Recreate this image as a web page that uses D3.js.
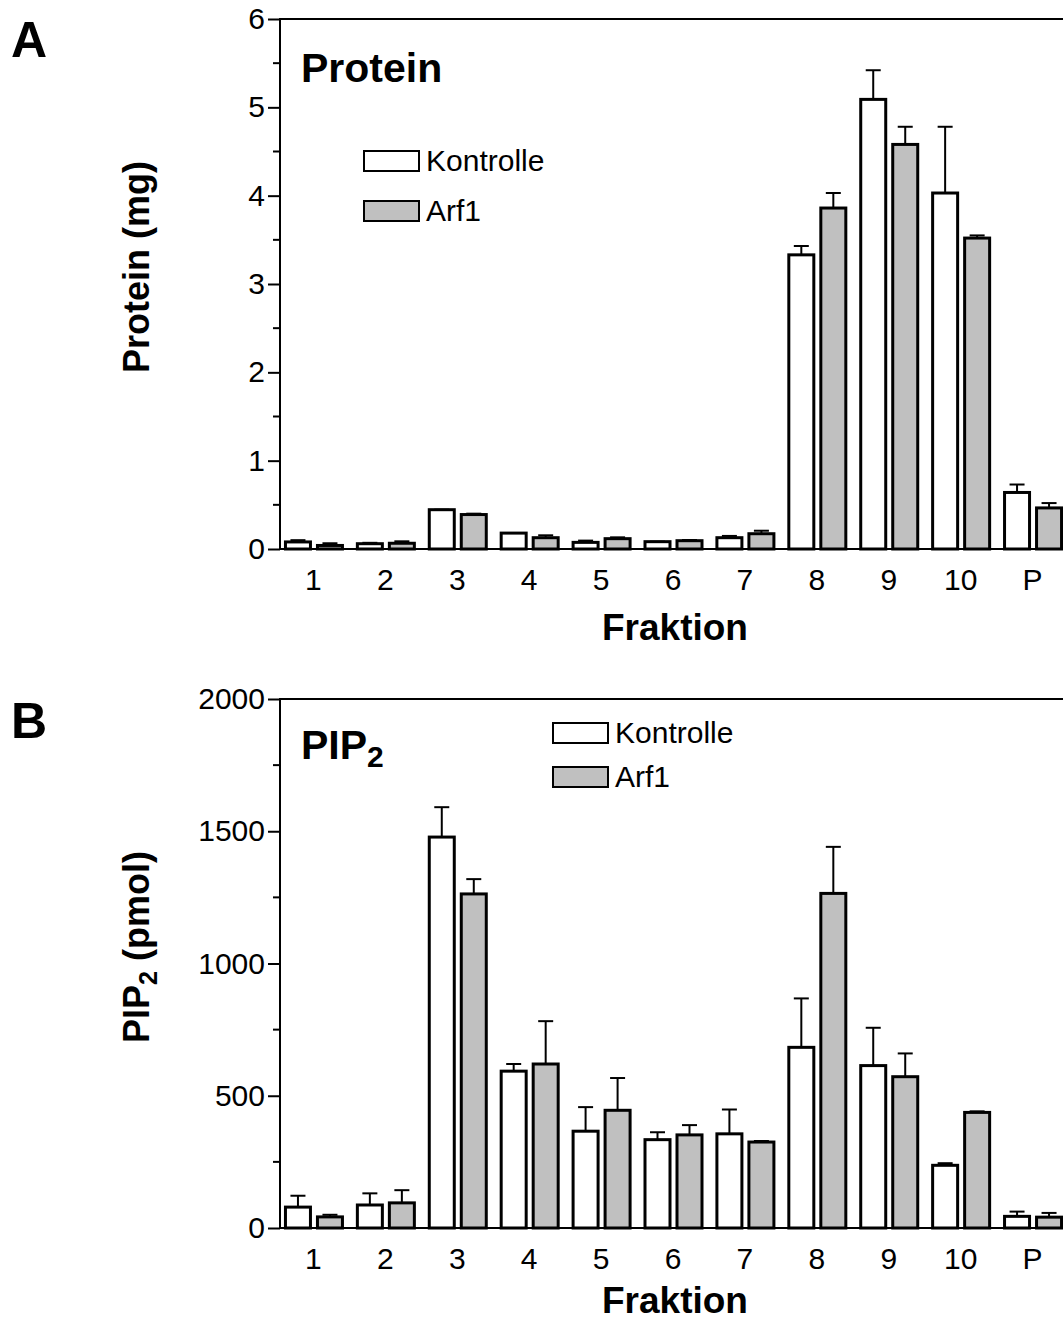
<!DOCTYPE html>
<html>
<head>
<meta charset="utf-8">
<script src="https://cdn.jsdelivr.net/npm/d3@7"></script>
<style>
body { margin: 0; background: #fff; }
svg { display: block; font-family: "Liberation Sans", Arial, sans-serif; }
</style>
</head>
<body>
<svg id="chart" width="1063" height="1322"></svg>
<script>
// fractions on x axis
var fractions = ["1", "2", "3", "4", "5", "6", "7", "8", "9", "10", "P"];
var seriesNames = ["Kontrolle", "Arf1"];

// panel A: protein (mg)
var proteinKontrolle = [0.08, 0.06, 0.445, 0.18, 0.075, 0.083, 0.128, 3.33, 5.09, 4.03, 0.64];
var proteinKontrolleErr = [0.02, 0.01, 0.0, 0.0, 0.02, 0.0, 0.02, 0.1, 0.33, 0.75, 0.09];
var proteinArf1 = [0.04, 0.065, 0.39, 0.128, 0.117, 0.094, 0.173, 3.86, 4.58, 3.52, 0.465];
var proteinArf1Err = [0.025, 0.022, 0.01, 0.027, 0.015, 0.008, 0.034, 0.17, 0.2, 0.03, 0.055];

// panel B: PIP2 (pmol)
var pipKontrolle = [79, 87, 1478, 593, 366, 334, 356, 683, 614, 237, 44];
var pipKontrolleErr = [43, 44, 113, 27, 91, 28, 92, 185, 143, 8, 18];
var pipArf1 = [42, 95, 1263, 620, 445, 352, 325, 1265, 572, 437, 41];
var pipArf1Err = [8, 48, 56, 162, 122, 37, 4, 176, 88, 4, 16];

var proteinTicks = [0, 1, 2, 3, 4, 5, 6];
var proteinMinor = [0.5, 1.5, 2.5, 3.5, 4.5, 5.5];
var pipTicks = [0, 500, 1000, 1500, 2000];
var pipMinor = [250, 750, 1250, 1750];

var colors = { "Kontrolle": "#ffffff", "Arf1": "#c0c0c0" };

var svg = d3.select("#chart");

var x = d3.scaleBand().domain(fractions).range([277.5, 1068.5]).paddingInner(0).paddingOuter(0);
var x1 = d3.scaleBand().domain(seriesNames).range([-29.5, 30.5]).paddingInner(0.125);

drawPanel({
    top: 19, bottom: 549, max: 6,
    ticks: proteinTicks, minor: proteinMinor,
    values: [proteinKontrolle, proteinArf1], errs: [proteinKontrolleErr, proteinArf1Err],
    letter: "A", letterY: 57,
    title: "Protein", titleY: 82,
    ylabel: "Protein (mg)", ylabelY: 267,
    legendX: 363, legendY: [150, 200],
    xlabelY: 640
});

drawPanel({
    top: 699, bottom: 1228, max: 2000,
    ticks: pipTicks, minor: pipMinor,
    values: [pipKontrolle, pipArf1], errs: [pipKontrolleErr, pipArf1Err],
    letter: "B", letterY: 738,
    title: "PIP", titleY: 759,
    ylabel: "PIP", ylabelY: 947,
    legendX: 552, legendY: [722, 766],
    xlabelY: 1313
});

function drawPanel(p) {
    var y = d3.scaleLinear().domain([0, p.max]).range([p.bottom, p.top]);
    var g = svg.append("g");

    // bars + error bars
    p.values.forEach(function(vals, si) {
        var name = seriesNames[si];
        var errs = p.errs[si];
        var cx = function(i) { return x(fractions[i]) + x.bandwidth() / 2 + x1(name) + x1.bandwidth() / 2; };
        var grp = g.append("g");
        grp.selectAll("line.err")
            .data(vals)
            .enter().append("line")
            .attr("class", "err")
            .attr("x1", function(d, i) { return cx(i); })
            .attr("x2", function(d, i) { return cx(i); })
            .attr("y1", function(d) { return y(d); })
            .attr("y2", function(d, i) { return y(d + errs[i]); })
            .attr("stroke", "#000").attr("stroke-width", 2);
        grp.selectAll("line.cap")
            .data(vals)
            .enter().append("line")
            .attr("class", "cap")
            .attr("x1", function(d, i) { return cx(i) - 7.5; })
            .attr("x2", function(d, i) { return cx(i) + 7.5; })
            .attr("y1", function(d, i) { return y(d + errs[i]); })
            .attr("y2", function(d, i) { return y(d + errs[i]); })
            .attr("stroke", "#000").attr("stroke-width", 2);
        grp.selectAll("rect")
            .data(vals)
            .enter().append("rect")
            .attr("x", function(d, i) { return x(fractions[i]) + x.bandwidth() / 2 + x1(name) + 1.5; })
            .attr("width", x1.bandwidth() - 3)
            .attr("y", function(d) { return y(d); })
            .attr("height", function(d) { return p.bottom - y(d); })
            .attr("fill", colors[name])
            .attr("stroke", "#000").attr("stroke-width", 3);
    });

    // y axis
    var yAxis = d3.axisLeft(y).tickValues(p.ticks).tickSize(12).tickPadding(3).tickFormat(d3.format("d"));
    var ya = g.append("g").attr("transform", "translate(280,0)").call(yAxis);
    ya.select(".domain").attr("stroke-width", 2).attr("d", "M0," + p.bottom + "V" + p.top);
    ya.selectAll(".tick line").attr("stroke-width", 2);
    ya.selectAll(".tick text").attr("font-size", 30).attr("font-family", "Liberation Sans, Arial, sans-serif").attr("fill", "#000");
    g.selectAll("line.minor")
        .data(p.minor)
        .enter().append("line")
        .attr("class", "minor")
        .attr("x1", 273).attr("x2", 280)
        .attr("y1", function(d) { return y(d); })
        .attr("y2", function(d) { return y(d); })
        .attr("stroke", "#000").attr("stroke-width", 2);

    // x axis
    var xAxis = d3.axisBottom(x).tickSize(0).tickPadding(20);
    var xa = g.append("g").attr("transform", "translate(0," + p.bottom + ")").call(xAxis);
    xa.select(".domain").attr("stroke-width", 2).attr("d", "M279,0H1063");
    xa.selectAll(".tick text").attr("font-size", 30).attr("font-family", "Liberation Sans, Arial, sans-serif").attr("fill", "#000");

    // top frame line
    g.append("line")
        .attr("x1", 279).attr("x2", 1063)
        .attr("y1", p.top).attr("y2", p.top)
        .attr("stroke", "#000").attr("stroke-width", 2);

    // panel letter
    g.append("text").attr("x", 11).attr("y", p.letterY)
        .attr("font-size", 50).attr("font-weight", "bold").text(p.letter);

    // title inside
    var t = g.append("text").attr("x", 301).attr("y", p.titleY)
        .attr("font-size", 41).attr("font-weight", "bold").text(p.title);
    if (p.title === "PIP") {
        t.append("tspan").attr("font-size", 30).attr("dy", 8).text("2");
    }

    // y label
    var yl = g.append("text")
        .attr("transform", "translate(149," + p.ylabelY + ") rotate(-90)")
        .attr("text-anchor", "middle")
        .attr("font-size", 36).attr("font-weight", "bold");
    if (p.ylabel === "PIP") {
        yl.append("tspan").text("PIP");
        yl.append("tspan").attr("font-size", 25).attr("dy", 8).text("2");
        yl.append("tspan").attr("dy", -8).text(" (pmol)");
    } else {
        yl.text(p.ylabel);
    }

    // x label
    g.append("text").attr("x", 675).attr("y", p.xlabelY)
        .attr("text-anchor", "middle")
        .attr("font-size", 37).attr("font-weight", "bold").text("Fraktion");

    // legend
    seriesNames.forEach(function(name, i) {
        g.append("rect")
            .attr("x", p.legendX + 1).attr("y", p.legendY[i] + 1)
            .attr("width", 55).attr("height", 20)
            .attr("fill", colors[name]).attr("stroke", "#000").attr("stroke-width", 2);
        g.append("text")
            .attr("x", p.legendX + 63).attr("y", p.legendY[i] + 21)
            .attr("font-size", 30).text(name);
    });
}
</script>
</body>
</html>
